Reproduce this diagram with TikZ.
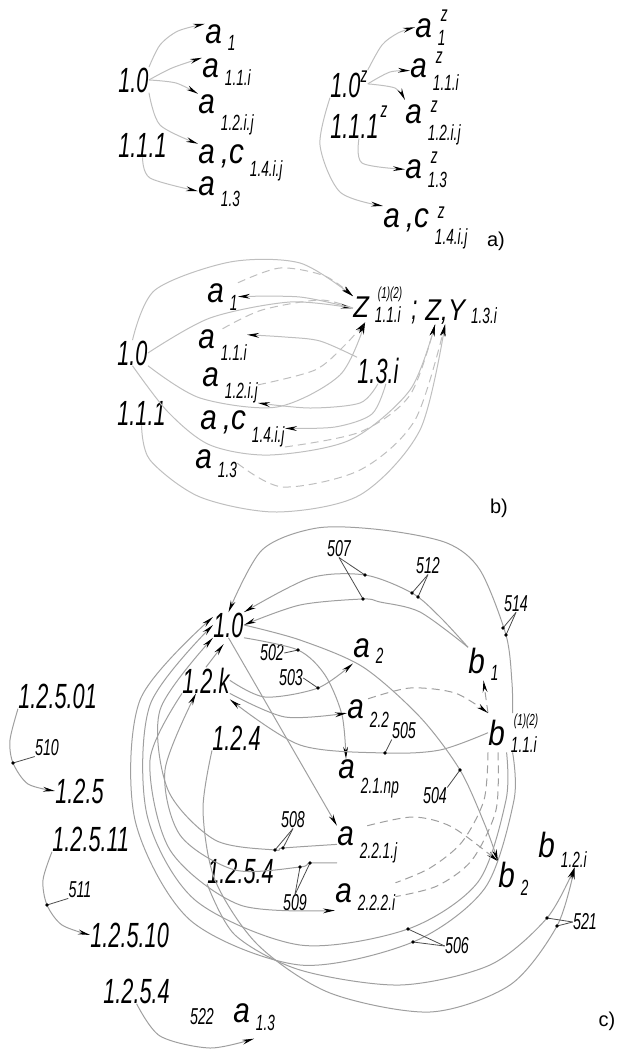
\documentclass[tikz,border=0pt]{standalone}
\usepackage{fontspec}
\usetikzlibrary{arrows.meta}
\newfontfamily\gost[FakeStretch=0.62]{Liberation Sans}
\newfontfamily\gostw[FakeStretch=0.85]{Liberation Sans}
\newfontfamily\plain{Liberation Sans}
\newcommand\mainsz{\fontsize{17.5}{17.5}\selectfont}
\newcommand\zsz{\fontsize{15}{15}\selectfont}
\newcommand\subsz{\fontsize{11}{11}\selectfont}
\newcommand\supsz{\fontsize{8}{8}\selectfont}
\newcommand\numsz{\fontsize{11.5}{11.5}\selectfont}
% letter with a lowered index
\newcommand\lb[3]{{\gostw #1}\hspace{3pt}\raisebox{-#3}{\subsz #2}}
% letter with an upper and a lower index
\newcommand\lbz[5]{{\gostw #1}\hspace{3pt}\rlap{\hspace{1.5pt}\raisebox{#4}{\subsz #2}}\raisebox{-#5}{\subsz #3}}
\begin{document}
\begin{tikzpicture}[x=0.5pt, y=-0.5pt,
    lbl/.style={inner sep=0pt, anchor=base west, font=\gost\itshape\mainsz},
    num/.style={inner sep=0pt, font=\gost\itshape\numsz},
    part/.style={inner sep=0pt, font=\plain\fontsize{10}{10}\selectfont},
    ln/.style={draw=gray!50, line width=0.5pt},
    arr/.style={ln, -{Stealth[color=black, length=6pt, width=2.4pt]}},
    dsh/.style={dash pattern=on 4pt off 2.5pt},
    ldr/.style={draw=black!70, line width=0.4pt}]
    \useasboundingbox (0,0) rectangle (619,1051);

    % a) left
    \node[lbl] (n10a) at (118,92) {1.0};
    \node[lbl] (n111a) at (118,157) {1.1.1};
    \node[lbl] (a1) at (205,43) {\lb{a}{1}{3.5pt}};
    \node[lbl] (a11) at (202,77) {\lb{a}{1.1.i}{4pt}};
    \node[lbl] (a12) at (198,113) {\lb{a}{1.2.i.j}{8.5pt}};
    \node[lbl] (a14) at (198,163) {\lb{a\,,c}{1.4.i.j}{6.5pt}};
    \node[lbl] (a13) at (198,195) {\lb{a}{1.3}{5.5pt}};
    \draw[arr] plot[smooth] coordinates {(n10a.north east) (160,45) (178,31) (a1.north west)};
    \draw[arr] plot[smooth] coordinates {(n10a.east) (172,68) (a11.north west)};
    \draw[arr] plot[smooth] coordinates {(n10a.east) (176,83) (a12.north west)};
    \draw[arr] plot[smooth] coordinates {(n10a.south east) (160,125) (a14.north west)};
    \draw[arr] plot[smooth] coordinates {(n111a.south) (150,178) (a13.west)};

    % a) right
    \node[lbl] (n10z) at (330,97) {1.0\raisebox{7.5pt}{\subsz z}};
    \node[lbl] (n111z) at (330,138) {1.1.1\hspace{1pt}\raisebox{10.5pt}{\subsz z}};
    \node[lbl] (az1) at (415,37) {\lbz{a}{z}{1}{8pt}{4pt}};
    \node[lbl] (az11) at (410,77) {\lbz{a}{z}{1.1.i}{7pt}{6.5pt}};
    \node[lbl] (az12) at (405,123) {\lbz{a}{z}{1.2.i.j}{5.5pt}{8.5pt}};
    \node[lbl] (az13) at (405,178) {\lbz{a}{z}{1.3}{7.5pt}{4.5pt}};
    \node[lbl] (azc14) at (383,227) {\lbz{a\,,c}{z}{1.4.i.j}{4.5pt}{8.5pt}};
    \draw[arr] plot[smooth] coordinates {(n10z.north east) (382,45) (398,33) (az1.west)};
    \draw[arr] plot[smooth] coordinates {(n10z.east) (390,72) (az11.west)};
    \draw[arr] plot[smooth] coordinates {(n10z.east) (395,88) (az12.north west)};
    \draw[arr] plot[smooth] coordinates {(n111z.south) (362,163) (az13.west)};
    \draw[arr] plot[smooth] coordinates {(n10z.south west) (320,145) (340,192) (azc14.north west)};
    \node[part] (pa) at (496,241) {a)};

    % b)
    \node[lbl] (b10) at (117,365) {1.0};
    \node[lbl] (b111) at (117,425) {1.1.1};
    \node[lbl] (ba1) at (207,302) {\lb{a}{1}{4pt}};
    \node[lbl] (ba11) at (198,348) {\lb{a}{1.1.i}{6pt}};
    \node[lbl] (ba12) at (202,386) {\lb{a}{1.2.i.j}{6pt}};
    \node[lbl] (ba14) at (200,429) {\lb{a\,,c}{1.4.i.j}{6.5pt}};
    \node[lbl] (ba13) at (195,468) {\lb{a}{1.3}{4.5pt}};
    \node[lbl] (bZ) at (353,317) {\lbz{\zsz Z}{\supsz(1)(2)}{1.1.i}{9.5pt}{2.5pt}};
    \node[lbl] (bsemi) at (411,319) {;};
    \node[lbl] (bZY) at (425,320) {\lb{\zsz Z,Y}{1.3.i}{1.5pt}};
    \node[lbl] (b13i) at (357,383) {1.3.i};
    \draw[arr] plot[smooth] coordinates {(b10.north) (155,290) (230,262) (300,263) ([yshift=4pt]bZ.west)};
    \draw[arr, dsh] plot[smooth] coordinates {(ba1.north east) (280,268) (325,276) ([yshift=4pt]bZ.west)};
    \draw[arr] plot[smooth] coordinates {(b10.east) (210,318) (290,302) ([yshift=-2pt]bZ.west)};
    \draw[arr] plot[smooth] coordinates {([yshift=-2pt]bZ.west) (300,297) (ba1.east)};
    \draw[ln, dsh] plot[smooth] coordinates {(ba11.north) (262,310) (320,300) ([yshift=-2pt]bZ.west)};
    \draw[arr] plot[smooth] coordinates {(b13i.north west) (320,341) (285,337) ([yshift=-3pt]ba11.north east)};
    \draw[arr] plot[smooth] coordinates {(b13i.south) (360,403) (310,408) (ba12.south east)};
    \draw[arr] plot[smooth] coordinates {([xshift=4pt]b13i.south) (372,414) (335,427) (ba14.east)};
    \draw[arr] plot[smooth] coordinates {(b10.south east) (200,398) (277,407) (340,375) ([xshift=-6pt]bZ.south)};
    \draw[arr, dsh] plot[smooth] coordinates {(ba12.east) (315,370) (345,345) ([xshift=-6pt]bZ.south)};
    \draw[arr] plot[smooth] coordinates {(b10.south) (168,412) (210,445) (270,455) (350,440) (410,390) ([xshift=-13pt]bZY.south)};
    \draw[arr] plot[smooth] coordinates {(b111.south) (150,460) (200,497) (277,512) (360,495) (420,430) ([xshift=-8pt]bZY.south)};
    \draw[arr, dsh] plot[smooth] coordinates {(ba13.east) (283,487) (360,470) (415,420) ([xshift=-8pt]bZY.south)};
    \draw[arr, dsh] plot[smooth] coordinates {(ba14.south east) (360,432) (410,395) ([xshift=-13pt]bZY.south)};
    \node[part] (pb) at (499,508) {b)};

    % c)
    \begin{scope}[ln/.append style={draw=gray!75}]
    \node[lbl] (c10) at (213,637) {1.0};
    \node[lbl] (c12k) at (182,693) {1.2.k};
    \node[lbl] (c124) at (212,750) {1.2.4};
    \node[lbl] (ca2) at (353,657) {\lb{a}{2}{3pt}};
    \node[lbl] (ca22) at (347,718) {\lb{a}{2.2}{4.5pt}};
    \node[lbl] (ca21np) at (338,778) {\lb{a}{2.1.np}{7.5pt}};
    \node[lbl] (ca221j) at (337,845) {\lb{a}{2.2.1.j}{6.5pt}};
    \node[lbl] (ca222i) at (335,902) {\lb{a}{2.2.2.i}{4pt}};
    \node[lbl] (c1254) at (207,883) {1.2.5.4};
    \node[lbl] (cb1) at (468,673) {\lb{b}{1}{3.5pt}};
    \node[lbl] (cb11i) at (488,745) {\lbz{b}{\supsz(1)(2)}{1.1.i}{10pt}{3.5pt}};
    \node[lbl] (cb2) at (498,887) {\lb{b}{2}{4pt}};
    \node[lbl] (cb12i) at (538,857) {\lb{b}{1.2.i}{5pt}};
    \node[lbl] (c12501) at (18,708) {1.2.5.01};
    \node[lbl] (c125) at (55,803) {1.2.5};
    \node[lbl] (c12511) at (52,851) {1.2.5.11};
    \node[lbl] (c12510) at (90,947) {1.2.5.10};
    \node[lbl] (c1254b) at (103,1003) {1.2.5.4};
    \node[lbl] (ca13) at (233,1022) {\lb{a}{1.3}{4pt}};
    \foreach \n/\t/\x/\y in {n507/507/339/549, n512/512/428/566, n514/514/516/604, n502/502/272/653,
        n503/503/291/678, n505/505/404/731, n504/504/435/796, n508/508/293/820, n509/509/295/903,
        n506/506/457/946, n521/521/585/922, n510/510/47/748, n511/511/80/890, n522/522/202/1017}
        \node[num] (\n) at (\x,\y) {\t};
    \foreach \d/\x/\y in {d507a/365/575, d507b/363/599, d512a/412/593, d512b/418/597, d514a/503/628,
        d514b/506/635, d502/298/650, d503/318/688, d505/385/753, d504/460/770, d508a/275/850,
        d508b/283/848, d509a/300/867, d509b/310/863, d506a/408/929, d506b/413/942, d521a/547/918,
        d521b/557/926, d510/13/763, d511/47/905}
        \coordinate (\d) at (\x,\y);

    \draw[arr] plot[smooth] coordinates {(cb11i.north) (512,683) (d514b) (480,570) (447,543) (383,530) (317,528) (262,550) (c10.north)};
    \draw[arr] plot[smooth] coordinates {(cb1.north west) (440,617) (d512a) (d507a) (310,578) (c10.north east)};
    \draw[arr] plot[smooth] coordinates {(cb1.north west) (420,612) (380,602) (d507b) (300,605) (c10.east)};
    \draw[arr] plot[smooth] coordinates {(c10.east) (300,640) (363,667) (420,717) (d504) (485,825) (cb2.north west)};
    \draw[arr] (c10.south) -- (ca221j.north west);
    \draw[arr] plot[smooth] coordinates {(c10.south east) (d502) (325,675) (342,715) ([xshift=4pt]ca21np.north west)};
    \draw[arr] plot[smooth] coordinates {(c12k.east) (265,697) (d503) (ca2.south west)};
    \draw[arr] plot[smooth] coordinates {(c12k.south east) (285,717) (ca22.west)};
    \draw[arr] plot[smooth] coordinates {(cb11i.west) (440,750) (d505) (300,745) ([yshift=-3pt]c12k.south east)};
    \draw[arr, shorten >=4pt] (c12k.north) -- (c10.south);
    \draw[arr, dsh] (cb11i.north west) -- (cb1.south);
    \draw[arr, dsh] plot[smooth] coordinates {(ca22.north) (410,688) (455,693) (cb11i.north west)};
    \draw[ln, dsh] plot[smooth] coordinates {(cb11i.south west) (484,800) (462,842) (430,868) (ca222i.north east)};
    \draw[ln, dsh] plot[smooth] coordinates {([xshift=5pt]cb11i.south west) (496,810) (472,860) (437,886) (ca222i.east)};
    \draw[arr, dsh] plot[smooth] coordinates {(ca221j.north) (413,817) (452,827) (cb2.north west)};
    % long arcs round the left side
    \draw[arr] plot[smooth] coordinates {(cb11i.south) (514,800) (485,888) (d506b) (300,965) (190,920) (135,820) (140,700) ([yshift=4pt]c10.west)};
    \draw[arr] plot[smooth] coordinates {([xshift=-3pt]cb11i.south) (506,800) (478,882) (d506a) (300,945) (195,900) (147,815) (150,705) (c10.west)};
    \draw[arr] plot[smooth] coordinates {(ca221j.west) (d508b) (d508a) (215,840) (168,790) (160,710) (c10.south west)};
    \draw[arr] plot[smooth] coordinates {(ca221j.south west) (d509b) (d509a) (235,870) (180,835) (165,770) ([xshift=7pt]c12k.south west)};
    \draw[arr] plot[smooth] coordinates {(c12k.south west) (150,760) (170,850) (240,905) (ca222i.south west)};
    \draw[arr] plot[smooth] coordinates {(c124.south west) (203,810) (215,880) (258,945) (330,993) (430,1012) (510,985) (d521b) ([xshift=6pt]cb12i.south)};
    \draw[arr] plot[smooth] coordinates {(c1254.south west) (235,935) (300,970) (400,985) (490,965) (d521a) ([xshift=6pt]cb12i.south)};
    % small ones at the left
    \draw[arr] plot[smooth] coordinates {(c12501.south west) (10,740) (d510) (28,784) (c125.west)};
    \draw[arr] plot[smooth] coordinates {(c12511.south west) (43,880) (d511) (62,925) (c12510.west)};
    \draw[arr] plot[smooth] coordinates {(c1254b.south) (160,1036) (210,1048) ([yshift=-4pt]ca13.south)};
    % leaders and points
    \foreach \n/\d in {n507.south/d507a, n507.south/d507b, n512.south/d512a, n512.south/d512b,
        n514.south/d514a, n514.south/d514b, n502.east/d502, n503.east/d503, n505.south west/d505,
        n504.north east/d504, n508.south/d508a, n508.south/d508b, n509.north/d509a, n509.north/d509b,
        n506.west/d506a, n506.west/d506b, n521.west/d521a, n521.west/d521b, n510.south west/d510,
        n511.south west/d511}
        {\draw[ldr] (\n) -- (\d); \fill (\d) circle (0.9pt);}
    \end{scope}
    \node[part] (pc) at (607,1021) {c)};
\end{tikzpicture}
\end{document}
